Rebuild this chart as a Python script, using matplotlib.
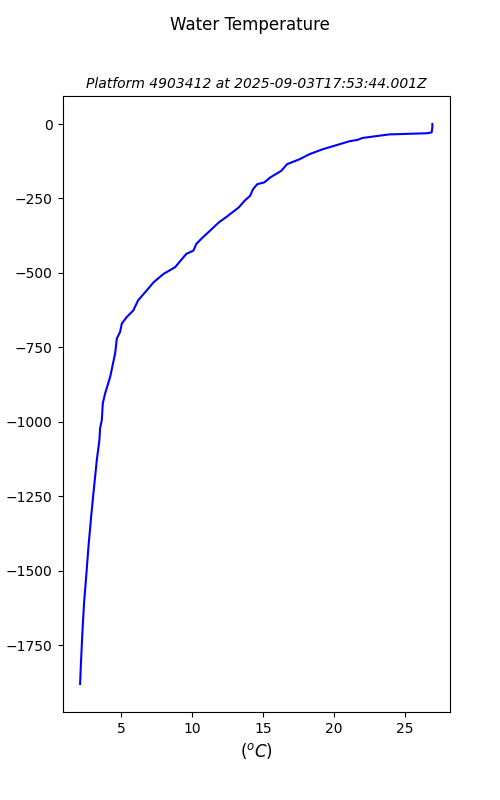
import matplotlib
matplotlib.use('Agg')
import matplotlib.pyplot as plt

# Profile (temperature in degC, depth in m)
temperature = [26.95, 26.95, 26.9, 26.6, 23.9, 22.0, 21.7, 21.1, 19.2, 18.3,
               17.6, 16.7, 16.3, 15.5, 15.1, 14.6, 14.3, 14.1, 13.7, 13.3,
               12.4, 11.9, 10.6, 10.3, 10.1, 9.6, 8.8, 8.0, 7.3, 6.8,
               6.2, 5.86, 5.4, 5.05, 4.93, 4.7, 4.58, 4.23, 3.87, 3.71,
               3.64, 3.52, 3.47, 3.29, 3.05, 2.89, 2.70, 2.54, 2.39, 2.27,
               2.16, 2.11]
depth = [0, -10, -28, -31, -35, -47, -53, -58, -85, -101,
         -118, -135, -157, -180, -196, -202, -219, -241, -258, -280,
         -313, -330, -388, -403, -425, -436, -481, -503, -531, -559,
         -592, -626, -648, -670, -698, -720, -770, -849, -905, -938,
         -994, -1021, -1061, -1127, -1239, -1317, -1418, -1518, -1607, -1708,
         -1819, -1880]

platform = '4903412'
timestamp = '2025-09-03T17:53:44.001Z'

fig, ax = plt.subplots(figsize=(5, 8), dpi=100)
fig.suptitle('Water Temperature')
ax.plot(temperature, depth, color='blue', linewidth=1.5)
ax.set_title(f'Platform {platform} at {timestamp}', fontsize=10, fontstyle='italic')
ax.set_xlabel('($^oC$)', fontsize=12)
ax.set_ylabel('depth (m)')

fig.savefig('out.png', dpi=100)
